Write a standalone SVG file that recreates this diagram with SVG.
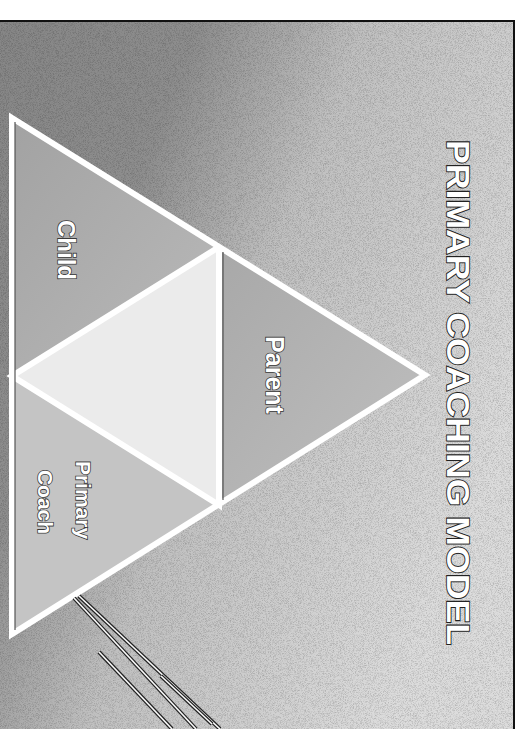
<svg xmlns="http://www.w3.org/2000/svg" width="531" height="729" viewBox="0 0 531 729">
<defs>
<linearGradient id="bg" x1="0" y1="0" x2="1" y2="0.55">
<stop offset="0" stop-color="#868686"/>
<stop offset="0.3" stop-color="#8e8e8e"/>
<stop offset="0.55" stop-color="#c0c0c0"/>
<stop offset="1" stop-color="#dcdcdc"/>
</linearGradient>
<linearGradient id="childG" x1="0" y1="0" x2="1" y2="1">
<stop offset="0" stop-color="#a2a2a2"/>
<stop offset="1" stop-color="#bababa"/>
</linearGradient>
<linearGradient id="parentG" x1="0" y1="0" x2="1" y2="1">
<stop offset="0" stop-color="#a8a8a8"/>
<stop offset="1" stop-color="#c0c0c0"/>
</linearGradient>
<filter id="grain" x="0" y="0" width="1" height="1">
<feTurbulence type="fractalNoise" baseFrequency="1.4" numOctaves="1" seed="3" result="n"/>
<feColorMatrix in="n" type="matrix" values="0 0 0 0 0  0 0 0 0 0  0 0 0 0 0  0 0 0 -1.4 0.8" result="a"/>
<feComposite in="SourceGraphic" in2="a" operator="in"/>
</filter>
<style>
.edge{fill:none;stroke:#ffffff;stroke-width:6;stroke-linejoin:miter}
.shade{fill:none;stroke:#555;stroke-width:1.2}
.lbl{font-family:"Liberation Sans",Arial,sans-serif;font-weight:700;fill:#ffffff;stroke:#3a3a3a;stroke-width:1.6;paint-order:stroke}
.title{font-family:"Liberation Sans",Arial,sans-serif;font-weight:700;font-size:31px;fill:#ffffff;stroke:#222;stroke-width:1.8;paint-order:stroke}
.dl{stroke:#222;stroke-width:4;fill:none}
.wl{stroke:#fafafa;stroke-width:1.6;fill:none}
</style>
</defs>
<rect x="0" y="0" width="531" height="729" fill="#ffffff"/>
<rect x="0" y="21" width="514" height="708" fill="url(#bg)"/>
<rect x="0" y="21" width="514" height="708" fill="#000" opacity="0.35" filter="url(#grain)"/>
<line x1="0" y1="21" x2="515" y2="21" stroke="#111" stroke-width="2"/>
<line x1="514" y1="21" x2="514" y2="729" stroke="#111" stroke-width="2"/>

<g id="child">
<polygon points="12,118 219,247 12,376" fill="url(#childG)"/>
<text class="lbl" font-size="24" transform="translate(58,250) rotate(90)" text-anchor="middle">Child</text>
</g>
<g id="parent">
<polygon points="219,247 425,375 219,505" fill="url(#parentG)"/>
<text class="lbl" font-size="25" transform="translate(266,375) rotate(90)" text-anchor="middle">Parent</text>
</g>
<g id="center">
<polygon points="219,247 219,505 12,376" fill="#ebebeb"/>
</g>
<g id="primary-coach">
<polygon points="12,376 219,505 12,634" fill="#c4c4c4"/>
<text class="lbl" font-size="21" transform="translate(76,500) rotate(90)" text-anchor="middle">Primary</text>
<text class="lbl" font-size="21" transform="translate(38,502) rotate(90)" text-anchor="middle">Coach</text>
</g>

<g id="connectors">
<polygon class="edge" points="12,118 425,375 12,634"/>
<polyline class="edge" points="219,247 219,505 12,376 219,247"/>
<line class="shade" x1="223" y1="252" x2="223" y2="500"/>
<line class="shade" x1="15" y1="122" x2="15" y2="630"/>
</g>

<g id="decor-lines">
<line class="dl" x1="74" y1="598" x2="196" y2="729"/>
<line class="wl" x1="74" y1="598" x2="196" y2="729"/>
<line class="dl" x1="79" y1="596" x2="220" y2="729"/>
<line class="wl" x1="79" y1="596" x2="220" y2="729"/>
<line class="dl" x1="99" y1="652" x2="172" y2="729"/>
<line class="wl" x1="99" y1="652" x2="172" y2="729"/>
<line class="dl" x1="161" y1="676" x2="212" y2="724"/>
<line class="wl" x1="161" y1="676" x2="212" y2="724"/>
</g>

<g id="title">
<text class="title" transform="translate(447,140) rotate(90)" textLength="505" lengthAdjust="spacingAndGlyphs">PRIMARY COACHING MODEL</text>
</g>
</svg>
